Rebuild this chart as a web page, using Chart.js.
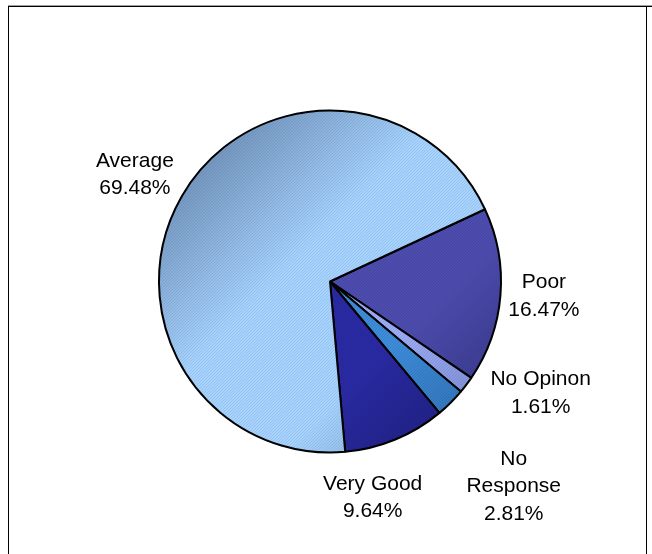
<!DOCTYPE html>
<html>
<head>
<meta charset="utf-8">
<script src="https://cdn.jsdelivr.net/npm/chart.js@4.4.1/dist/chart.umd.min.js"></script>
<style>
  html, body { margin: 0; padding: 0; background: #fff; }
  #pie { display: block; }
</style>
</head>
<body>
<canvas id="pie" width="652" height="554"></canvas>
<script>
// --- données du camembert ---
const categories = ['Poor', 'No Opinon', 'No Response', 'Very Good', 'Average'];
const shares = [16.47, 1.61, 2.81, 9.64, 69.48];
// noms tels qu'ils passent à la ligne dans les étiquettes
const labelNames = [['Poor'], ['No Opinon'], ['No', 'Response'], ['Very Good'], ['Average']];

// tons clair / foncé de chaque part (dégradé diagonal)
const lightTones = ['#4d4db0', '#9cacf8', '#3d8ddb', '#2a2aa4', '#a6d3ff'];
const darkTones = ['#30307c', '#7080c4', '#2c68a8', '#1c1c72', '#7092bb'];

// placement des étiquettes : décalage d'angle (degrés) et distance (x rayon)
const labelShift = [-0.7, -9.2, 3, 11.3, -1.3];
const labelDist = [1.254, 1.395, 1.61, 1.29, 1.30];

const fillCache = {};

// remplissage : dégradé sombre-clair-sombre + fines hachures "/"
function sliceFill(context) {
    const chart = context.chart;
    const area = chart.chartArea;
    const i = context.dataIndex;
    if (!area) return lightTones[i];
    const key = i + ':' + area.left + ':' + area.top + ':' + area.right;
    if (fillCache[key]) return fillCache[key];

    const off = document.createElement('canvas');
    off.width = chart.width;
    off.height = chart.height;
    const c = off.getContext('2d');
    const g = c.createLinearGradient(area.left, area.top, area.right, area.bottom);
    g.addColorStop(0, darkTones[i]);
    g.addColorStop(0.12, darkTones[i]);
    g.addColorStop(0.42, lightTones[i]);
    g.addColorStop(0.68, lightTones[i]);
    g.addColorStop(1, darkTones[i]);
    c.fillStyle = g;
    c.fillRect(0, 0, off.width, off.height);

    c.strokeStyle = 'rgba(0, 0, 0, 0.08)';
    c.lineWidth = 1;
    for (let k = -off.height; k < off.width; k += 3) {
        c.beginPath();
        c.moveTo(k, off.height);
        c.lineTo(k + off.height, 0);
        c.stroke();
    }
    const pat = chart.ctx.createPattern(off, 'no-repeat');
    fillCache[key] = pat;
    return pat;
}

// cadre + étiquettes "Nom / xx.xx%"
const pieLabels = {
    id: 'pieLabels',
    beforeDraw(chart) {
        const ctx = chart.ctx;
        ctx.save();
        ctx.fillStyle = '#a0a0a0';
        ctx.fillRect(8, 5, chart.width - 8, 1);
        ctx.fillStyle = '#000';
        ctx.fillRect(8, 6, chart.width - 8, 1);
        ctx.fillRect(8, 6, 1, chart.height - 6);
        ctx.fillRect(646, 6, 1, chart.height - 6);
        ctx.restore();
    },
    afterDatasetsDraw(chart) {
        const ctx = chart.ctx;
        const arcs = chart.getDatasetMeta(0).data;
        ctx.save();
        ctx.font = '21px "Liberation Sans", Arial, sans-serif';
        ctx.fillStyle = '#000';
        ctx.textAlign = 'center';
        ctx.textBaseline = 'middle';
        const lh = 27.5;
        arcs.forEach((arc, i) => {
            const p = arc.getProps(['x', 'y', 'startAngle', 'endAngle', 'outerRadius'], true);
            const ang = (p.startAngle + p.endAngle) / 2 + labelShift[i] * Math.PI / 180;
            const cx = p.x + Math.cos(ang) * p.outerRadius * labelDist[i];
            const cy = p.y + Math.sin(ang) * p.outerRadius * labelDist[i];
            const lines = labelNames[i].concat([shares[i].toFixed(2) + '%']);
            const y0 = cy - (lines.length - 1) * lh / 2;
            lines.forEach((t, j) => ctx.fillText(t, cx, y0 + j * lh));
        });
        ctx.restore();
    }
};

new Chart(document.getElementById('pie'), {
    type: 'pie',
    data: {
        labels: categories,
        datasets: [{
            data: shares,
            backgroundColor: sliceFill,
            borderColor: '#000',
            borderWidth: 2
        }]
    },
    options: {
        responsive: false,
        animation: false,
        devicePixelRatio: 1,
        rotation: 65,
        layout: {
            padding: { left: 158, right: 150, top: 109.5, bottom: 100.5 }
        },
        plugins: {
            legend: { display: false },
            tooltip: { enabled: false }
        }
    },
    plugins: [pieLabels]
});
</script>
</body>
</html>
